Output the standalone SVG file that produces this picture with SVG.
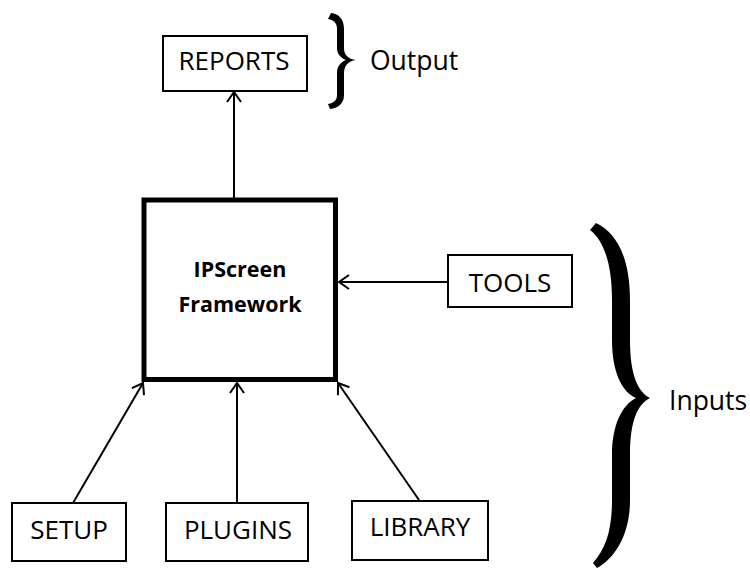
<svg xmlns="http://www.w3.org/2000/svg" width="750" height="570" viewBox="0 0 750 570">
  <style>
    .box { fill: #ffffff; stroke: #000000; stroke-width: 2; }
    .core { fill: #ffffff; stroke: #000000; stroke-width: 5; }
    .label { font-family: "Open Sans", "Noto Sans", "Liberation Sans", sans-serif; font-size: 26px; fill: #000000; text-anchor: middle; }
    .side { font-family: "Open Sans", "Noto Sans", "Liberation Sans", sans-serif; font-size: 26.5px; fill: #000000; }
    .bold { font-family: "Open Sans", "Noto Sans", "Liberation Sans", sans-serif; font-size: 21.5px; font-weight: bold; fill: #000000; text-anchor: middle; }
    .edge { fill: none; stroke: #000000; stroke-width: 2; }
    .brace { fill: #000000; stroke: none; }
  </style>
  <defs>
    <marker id="open-arrow" markerUnits="userSpaceOnUse" viewBox="0 0 12 16" refX="11" refY="8" markerWidth="12" markerHeight="16" orient="auto">
      <path d="M1,1 L11,8 L1,15" fill="none" stroke="#000000" stroke-width="2"/>
    </marker>
  </defs>
  <rect width="750" height="570" fill="#ffffff"/>

  <!-- connectors -->
  <g id="connectors">
    <line class="edge" x1="234" y1="198" x2="234" y2="92" marker-end="url(#open-arrow)"/>
    <line class="edge" x1="448" y1="282" x2="339" y2="282" marker-end="url(#open-arrow)"/>
    <line class="edge" x1="73" y1="503" x2="143" y2="383" marker-end="url(#open-arrow)"/>
    <line class="edge" x1="237" y1="502" x2="237" y2="383" marker-end="url(#open-arrow)"/>
    <line class="edge" x1="419" y1="500" x2="338" y2="383" marker-end="url(#open-arrow)"/>
  </g>

  <!-- central framework -->
  <g id="framework">
    <rect class="core" x="144" y="200" width="191.5" height="179.5"/>
    <text class="bold" x="240" y="277">IPScreen</text>
    <text class="bold" x="240" y="312">Framework</text>
  </g>

  <g id="reports">
    <rect class="box" x="163" y="36" width="144" height="55"/>
    <text class="label" x="234" y="70">REPORTS</text>
  </g>

  <g id="tools">
    <rect class="box" x="448" y="255" width="124" height="52"/>
    <text class="label" x="510" y="292">TOOLS</text>
  </g>

  <g id="setup">
    <rect class="box" x="12" y="503" width="114" height="58"/>
    <text class="label" x="69" y="539">SETUP</text>
  </g>

  <g id="plugins">
    <rect class="box" x="166" y="503" width="142" height="58"/>
    <text class="label" x="238" y="539">PLUGINS</text>
  </g>

  <g id="library">
    <rect class="box" x="352" y="501" width="136" height="59"/>
    <text class="label" x="420" y="536">LIBRARY</text>
  </g>

  <!-- output brace and label -->
  <g id="output">
    <path class="brace" d="M331 13 C339 14 344 19 344 29 L344 48 C344 55 348 59 356 60 C348 61 344 66 344 73 L344 95 C344 104 338 108 330 109 L328 104 C334 103 337 100 337 95 L337 73 C337 66 341 62 346 60 C341 58 337 54 337 48 L337 29 C337 23 334 20 328 19 Z"/>
    <text class="side" x="370" y="70">Output</text>
  </g>

  <!-- inputs brace and label -->
  <g id="inputs">
    <path class="brace" d="M596 223 C615 232 630 255 630 300 L630 340 C630 375 638 392 650 398 C638 404 630 420 630 455 L630 500 C630 535 615 558 597 568 L593 563 C606 548 612 530 612 500 L612 455 C612 425 622 405 636 398 C622 392 612 372 612 340 L612 300 C612 262 603 240 590 230 Z"/>
    <text class="side" x="669" y="410">Inputs</text>
  </g>
</svg>
